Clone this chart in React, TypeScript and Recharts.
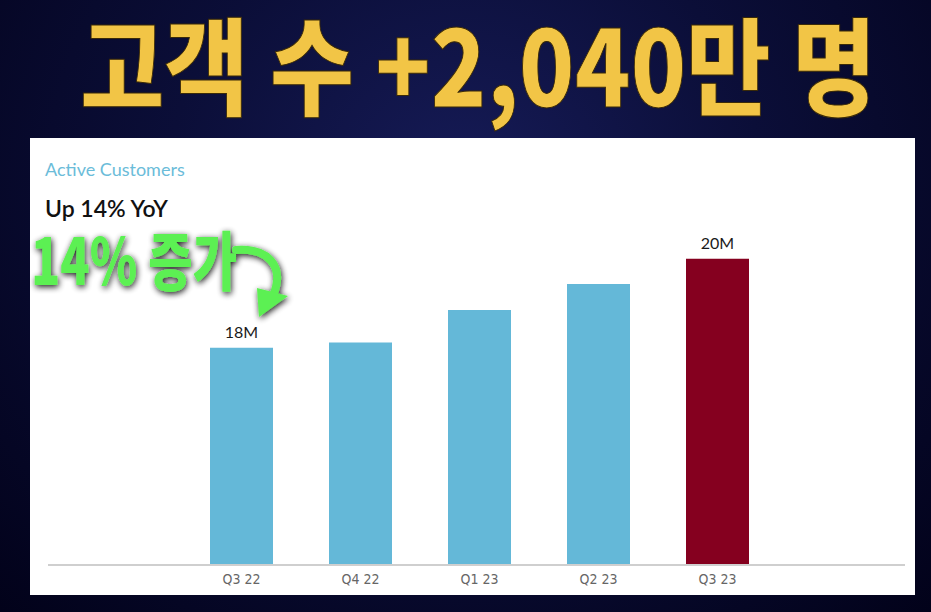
import React from 'react';
import { BarChart, Bar, XAxis, YAxis, Cell, LabelList } from 'recharts';

// Active customers per quarter (millions)
const quarters = ['Q3 22', 'Q4 22', 'Q1 23', 'Q2 23', 'Q3 23'];
const customers = [17.9, 18.05, 18.96, 19.69, 20.4];
const valueLabels = ['18M', '', '', '', '20M'];
const barColors = ['#64b8d8', '#64b8d8', '#64b8d8', '#64b8d8', '#85001f'];

const data = quarters.map((q, i) => ({ q, v: customers[i], label: valueLabels[i] }));

const W = 931;
const H = 612;

const BarLabel = (props: any) => {
  const { x, y, width, index } = props;
  const text = valueLabels[index];
  if (!text) return null;
  return (
    <text
      x={x + width / 2}
      y={y - 10}
      textAnchor="middle"
      fontSize={16}
      fontFamily="Lato, 'Open Sans', sans-serif"
      fill="#1a1a1a"
    >
      {text}
    </text>
  );
};

export default function App() {
  return (
    <div
      style={{
        position: 'absolute',
        left: 0,
        top: 0,
        width: W,
        height: H,
        overflow: 'hidden',
        background:
          'radial-gradient(ellipse at 50% 30%, #161b57 0%, #0b0e38 45%, #02021a 100%)',
      }}
    >
      {/* big headline */}
      <svg width={W} height={138} style={{ position: 'absolute', left: 0, top: 0 }}>
        <text
          x={80}
          y={107}
          textLength={796}
          lengthAdjust="spacingAndGlyphs"
          fontSize={106}
          fontWeight={900}
          fontFamily="'Noto Sans CJK KR', sans-serif"
          fill="#f2c546"
          stroke="#3a2a08"
          strokeWidth={1}
        >
          고객 수 +2,040만 명
        </text>
      </svg>

      {/* white card */}
      <div
        style={{
          position: 'absolute',
          left: 30,
          top: 138,
          width: 885,
          height: 457,
          background: '#ffffff',
        }}
      />

      <div
        style={{
          position: 'absolute',
          left: 45,
          top: 158,
          fontFamily: 'Lato, sans-serif',
          fontSize: 18,
          color: '#6bbcd9',
        }}
      >
        Active Customers
      </div>
      <div
        style={{
          position: 'absolute',
          left: 45,
          top: 194,
          fontFamily: 'Lato, sans-serif',
          fontSize: 23,
          fontWeight: 600,
          color: '#111',
        }}
      >
        Up 14% YoY
      </div>

      <div style={{ position: 'absolute', left: 0, top: 0 }}>
        <BarChart
          width={W}
          height={H}
          data={data}
          margin={{ top: 200, right: 26, bottom: 17, left: 48 }}
        >
          <YAxis hide domain={[11.8, 22.05]} />
          <XAxis
            dataKey="q"
            height={30}
            padding={{ left: 134, right: 128 }}
            axisLine={{ stroke: '#cfcfcf', strokeWidth: 2 }}
            tickLine={false}
            tickSize={6}
            tickMargin={3}
            tick={{
              fill: '#666',
              fontSize: 14,
              fontFamily: "'Liberation Sans Narrow', 'DejaVu Sans Condensed', sans-serif",
            }}
          />
          <Bar dataKey="v" barSize={63} isAnimationActive={false}>
            {data.map((d, i) => (
              <Cell key={d.q} fill={barColors[i]} />
            ))}
            <LabelList dataKey="label" content={BarLabel} />
          </Bar>
        </BarChart>
      </div>

      {/* green annotation with arrow */}
      <svg width={W} height={H} style={{ position: 'absolute', left: 0, top: 0, pointerEvents: 'none' }}>
        <defs>
          <filter id="glow" x="-20%" y="-30%" width="140%" height="160%">
            <feGaussianBlur in="SourceAlpha" stdDeviation="3" />
            <feOffset dx="1" dy="2" result="b" />
            <feComponentTransfer>
              <feFuncA type="linear" slope="0.9" />
            </feComponentTransfer>
            <feMerge>
              <feMergeNode />
              <feMergeNode in="SourceGraphic" />
            </feMerge>
          </filter>
        </defs>
        <g filter="url(#glow)">
          <text
            x={31}
            y={285}
            textLength={206}
            lengthAdjust="spacingAndGlyphs"
            fontSize={64}
            fontWeight={900}
            fontFamily="'Noto Sans CJK KR', sans-serif"
            fill="#5cf052"
          >
            14% 증가
          </text>
          <path
            d="M 236 250 C 266 248 286 264 273 296"
            fill="none"
            stroke="#5cf052"
            strokeWidth={8}
            strokeLinecap="round"
          />
          <path d="M 257 288 L 288 296 L 259 317 Z" fill="#5cf052" />
        </g>
      </svg>
    </div>
  );
}
